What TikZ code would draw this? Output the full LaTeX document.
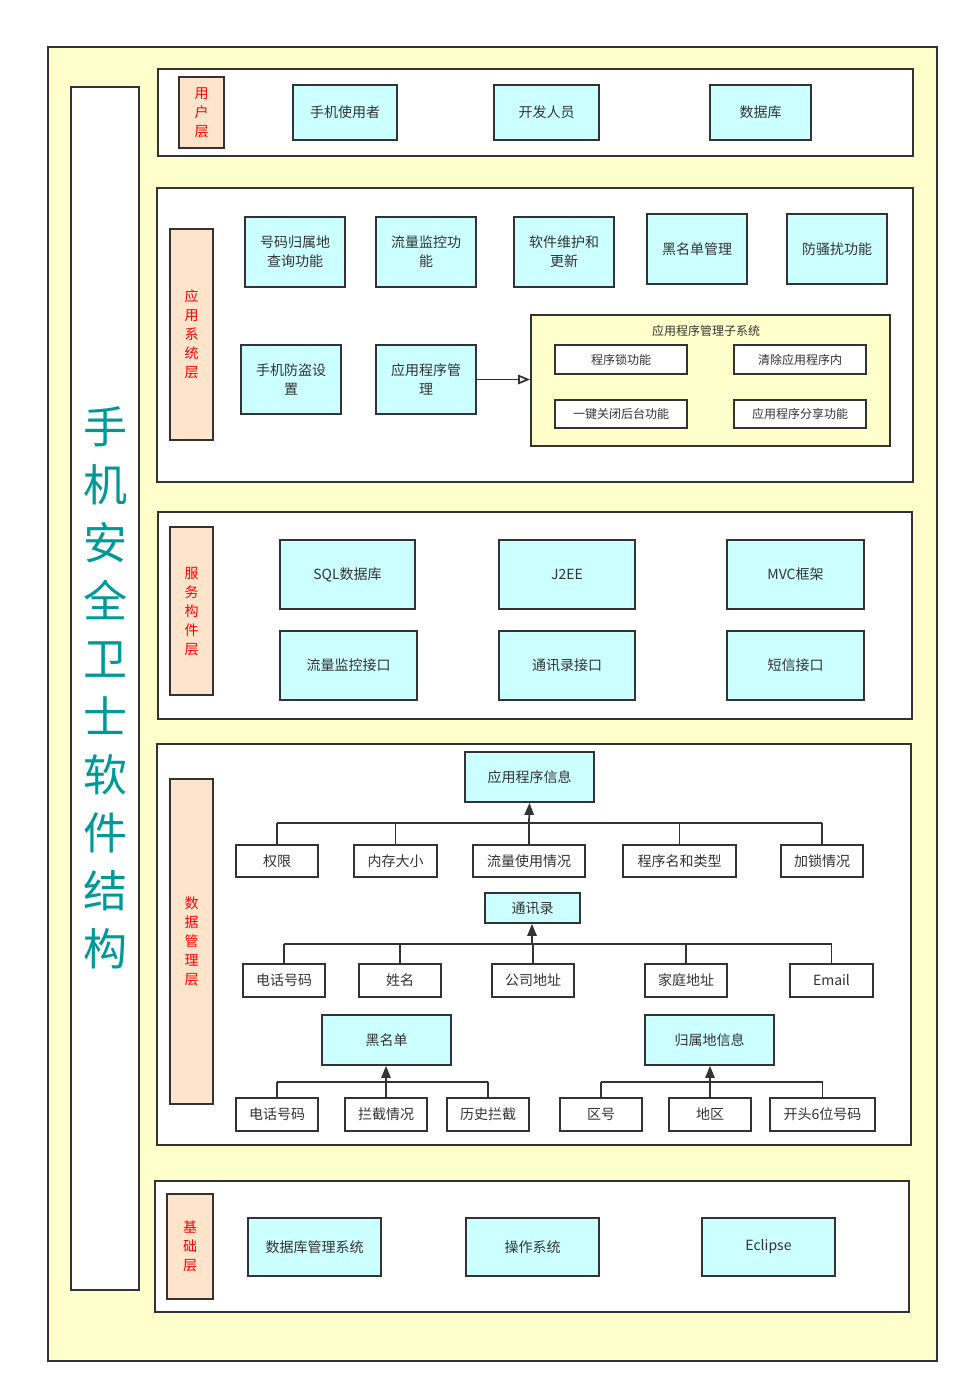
\documentclass[tikz,border=0pt]{standalone}
\usepackage{fontspec}
\setmainfont{Noto Sans CJK SC}
\usetikzlibrary{arrows.meta}
\definecolor{bgyellow}{HTML}{FFFFCC}
\definecolor{cyanfill}{HTML}{CCFFFF}
\definecolor{peach}{HTML}{FFE4CC}
\definecolor{lineg}{HTML}{333333}
\definecolor{teal1}{HTML}{009999}
\definecolor{txt}{HTML}{333333}
\tikzset{
  bx/.style n args={4}{at={({(#1+#3)/2},{(#2+#4)/2})}, minimum width={(#3-#1)*0.75pt}, minimum height={(#4-#2)*0.75pt}},
  base/.style={draw=lineg, line width=1.3pt, inner sep=0pt, text=txt, align=center, font=\fontsize{10.5}{14.5}\selectfont},
  cbox/.style={base, fill=cyanfill},
  wbox/.style={base, fill=white},
  panel/.style={draw=lineg, line width=1.3pt, fill=white, inner sep=0pt},
  lbl/.style={base, fill=peach, text=red, font=\fontsize{10.5}{14.25}\selectfont},
  small/.style={base, fill=white, font=\fontsize{9}{11}\selectfont},
  conn/.style={draw=lineg, line width=1.3pt},
  uparrow/.style={conn, -{Triangle[length=9pt,width=7pt]}},
}
\begin{document}
\begin{tikzpicture}[x=0.75pt,y=-0.75pt]
\useasboundingbox (0,0) rectangle (969,1394);
\fill[white] (0,0) rectangle (969,1394);
% outer
\node[panel, fill=bgyellow, bx={48}{47}{937}{1361}] (outer) {};
\node[panel, bx={71}{87}{139}{1290}] (titlebox) {};
\node[text=teal1, align=center, font=\fontsize{33}{43.5}\selectfont, inner sep=0pt] (title) at (105,688) {手\\机\\安\\全\\卫\\士\\软\\件\\结\\构};

% user layer
\node[panel, bx={158}{69}{913}{156}] (pUser) {};
\node[lbl, bx={179}{77}{224}{148}] (lUser) {用\\户\\层};
\node[cbox, bx={293}{85}{397}{140}] (u1) {手机使用者};
\node[cbox, bx={494}{85}{599}{140}] (u2) {开发人员};
\node[cbox, bx={710}{85}{811}{140}] (u3) {数据库};

% application layer
\node[panel, bx={157}{188}{913}{482}] (pApp) {};
\node[lbl, bx={170}{229}{213}{440}] (lApp) {应\\用\\系\\统\\层};
\node[cbox, bx={245}{217}{345}{287}] (a1) {号码归属地\\查询功能};
\node[cbox, bx={376}{217}{476}{287}] (a2) {流量监控功\\能};
\node[cbox, bx={514}{217}{614}{287}] (a3) {软件维护和\\更新};
\node[cbox, bx={647}{214}{747}{284}] (a4) {黑名单管理};
\node[cbox, bx={787}{214}{887}{284}] (a5) {防骚扰功能};
\node[cbox, bx={241}{345}{341}{414}] (a6) {手机防盗设\\置};
\node[cbox, bx={376}{345}{476}{414}] (a7) {应用程序管\\理};
\node[panel, fill=bgyellow, bx={531}{315}{890}{446}] (sub) {};
\node[text=txt, font=\fontsize{9}{11}\selectfont, inner sep=0pt] (subtitle) at (706,331) {应用程序管理子系统};
\node[small, bx={555}{345}{687}{374}] (s1) {程序锁功能};
\node[small, bx={734}{345}{866}{374}] (s2) {清除应用程序内};
\node[small, bx={555}{400}{687}{428}] (s3) {一键关闭后台功能};
\node[small, bx={734}{400}{866}{428}] (s4) {应用程序分享功能};
\draw[conn, -{Triangle[open, length=9pt, width=7pt]}] (a7.east) -- (a7.east -| sub.west);

% service layer
\node[panel, bx={158}{512}{912}{719}] (pSvc) {};
\node[lbl, bx={170}{527}{213}{695}] (lSvc) {服\\务\\构\\件\\层};
\node[cbox, bx={280}{540}{415}{609}] (v1) {SQL数据库};
\node[cbox, bx={499}{540}{635}{609}] (v2) {J2EE};
\node[cbox, bx={727}{540}{864}{609}] (v3) {MVC框架};
\node[cbox, bx={280}{631}{417}{700}] (v4) {流量监控接口};
\node[cbox, bx={499}{631}{635}{700}] (v5) {通讯录接口};
\node[cbox, bx={727}{631}{864}{700}] (v6) {短信接口};

% data layer
\node[panel, bx={157}{744}{911}{1145}] (pData) {};
\node[lbl, bx={170}{779}{213}{1104}] (lData) {数\\据\\管\\理\\层};
\node[cbox, bx={465}{752}{594}{802}] (d0) {应用程序信息};
\node[wbox, bx={236}{845}{318}{877}] (d1) {权限};
\node[wbox, bx={354}{845}{437}{877}] (d2) {内存大小};
\node[wbox, bx={473}{845}{585}{877}] (d3) {流量使用情况};
\node[wbox, bx={623}{845}{736}{877}] (d4) {程序名和类型};
\node[wbox, bx={781}{845}{863}{877}] (d5) {加锁情况};
\coordinate (bus0) at (529,823);
\foreach \n in {d1,d2,d4,d5} \draw[conn] (\n.north) -- (\n.north |- bus0);
\draw[conn] (d1.north |- bus0) -- (d5.north |- bus0);
\draw[conn] (d3.north) -- (bus0);
\draw[uparrow] (bus0) -- (d0.south);

\node[cbox, bx={485}{893}{580}{923}] (c0) {通讯录};
\node[wbox, bx={243}{964}{325}{997}] (c1) {电话号码};
\node[wbox, bx={359}{964}{441}{997}] (c2) {姓名};
\node[wbox, bx={492}{964}{574}{997}] (c3) {公司地址};
\node[wbox, bx={645}{964}{727}{997}] (c4) {家庭地址};
\node[wbox, bx={790}{964}{873}{997}] (c5) {Email};
\coordinate (bus1) at (532,944);
\foreach \n in {c1,c2,c3,c4,c5} \draw[conn] (\n.north) -- (\n.north |- bus1);
\draw[conn] (c1.north |- bus1) -- (c5.north |- bus1);
\draw[uparrow] (bus1) -- (bus1 |- c0.south);

\node[cbox, bx={322}{1015}{451}{1065}] (b0) {黑名单};
\node[wbox, bx={236}{1098}{318}{1131}] (b1) {电话号码};
\node[wbox, bx={345}{1098}{427}{1131}] (b2) {拦截情况};
\node[wbox, bx={447}{1098}{529}{1131}] (b3) {历史拦截};
\coordinate (bus2) at (386,1082);
\foreach \n in {b1,b2,b3} \draw[conn] (\n.north) -- (\n.north |- bus2);
\draw[conn] (b1.north |- bus2) -- (b3.north |- bus2);
\draw[uparrow] (bus2) -- (bus2 |- b0.south);

\node[cbox, bx={645}{1015}{774}{1065}] (g0) {归属地信息};
\node[wbox, bx={560}{1098}{642}{1131}] (g1) {区号};
\node[wbox, bx={669}{1098}{751}{1131}] (g2) {地区};
\node[wbox, bx={770}{1098}{875}{1131}] (g3) {开头6位号码};
\coordinate (bus3) at (710,1082);
\foreach \n in {g1,g2,g3} \draw[conn] (\n.north) -- (\n.north |- bus3);
\draw[conn] (g1.north |- bus3) -- (g3.north |- bus3);
\draw[uparrow] (bus3) -- (bus3 |- g0.south);

% base layer
\node[panel, bx={155}{1181}{909}{1312}] (pBase) {};
\node[lbl, bx={167}{1194}{213}{1299}] (lBase) {基\\础\\层};
\node[cbox, bx={248}{1218}{381}{1276}] (f1) {数据库管理系统};
\node[cbox, bx={466}{1218}{599}{1276}] (f2) {操作系统};
\node[cbox, bx={702}{1218}{835}{1276}] (f3) {Eclipse};
\end{tikzpicture}
\end{document}
